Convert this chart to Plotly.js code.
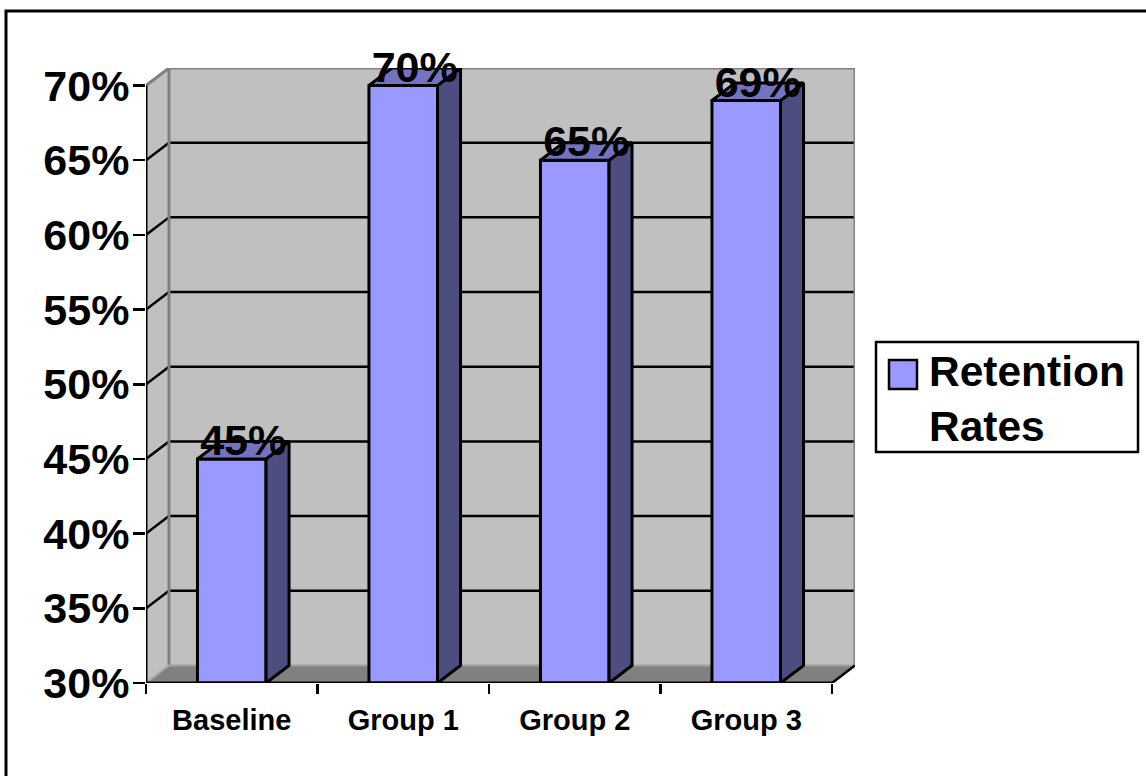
<!DOCTYPE html>
<html><head><meta charset="utf-8">
<script src="https://cdn.plot.ly/plotly-3.0.1.min.js"></script>
<style>html,body{margin:0;padding:0;background:#fff}#c{width:1146px;height:776px}</style>
</head><body><div id="c"></div>
<script>
const categories = ["Baseline", "Group 1", "Group 2", "Group 3"];
const retention = [45, 70, 65, 69];
const yTicks = [30, 35, 40, 45, 50, 55, 60, 65, 70];
const seriesName = "Retention<br>Rates";

const FONT = '"Liberation Sans", Arial, sans-serif';
const dx = 23 / 171.5, dy = 17.5 / 14.925, halfBar = 0.2, labelDrop = 7 / 14.925;
const xMin = -0.5, xMax = 3.5, yMin = 30, yMax = 70;
const L = 146, R = 855, T = 68, B = 683;
const px = v => (v - L) / (R - L), py = v => (B - v) / (B - T);
const poly = pts => 'M' + pts.map(p => p.join(',')).join('L') + 'Z';
const seg = (x0, y0, x1, y1, color, width, layer) => ({type:'line', xref:'x', yref:'y', x0, y0, x1, y1, layer: layer || 'below', line:{color, width}});

const shapes = [
  {type:'path', layer:'below', xref:'x', yref:'y', fillcolor:'#c0c0c0', line:{width:0},
    path: poly([[xMin,yMin],[xMin+dx,yMin+dy],[xMin+dx,yMax+dy],[xMin,yMax]])},
  {type:'path', layer:'below', xref:'x', yref:'y', fillcolor:'#c0c0c0', line:{width:0},
    path: poly([[xMin+dx,yMin+dy],[xMax+dx,yMin+dy],[xMax+dx,yMax+dy],[xMin+dx,yMax+dy]])},
  {type:'path', layer:'below', xref:'x', yref:'y', fillcolor:'#808080', line:{width:0},
    path: poly([[xMin,yMin],[xMax,yMin],[xMax+dx,yMin+dy],[xMin+dx,yMin+dy]])},
];
yTicks.slice(1, -1).forEach(v => {
  shapes.push(seg(xMin, v, xMin+dx, v+dy, '#000', 2.5));
  shapes.push(seg(xMin+dx, v+dy, xMax+dx, v+dy, '#000', 2.5));
});
shapes.push(seg(xMin+dx, yMin+dy, xMin+dx, yMax+dy, '#808080', 3));
shapes.push(seg(xMin+dx, yMax+dy, xMax+dx, yMax+dy, '#808080', 3));
shapes.push(seg(xMax+dx, yMin+dy, xMax+dx, yMax+dy, '#808080', 3));
shapes.push(seg(xMin, yMax, xMin+dx, yMax+dy, '#808080', 3));
shapes.push(seg(xMin, yMin, xMin+dx, yMin+dy, '#a6a6a6', 2));
shapes.push(seg(xMin+dx, yMin+dy, xMax+dx, yMin+dy, '#a0a0a0', 2));
shapes.push(seg(xMax, yMin, xMax+dx, yMin+dy, '#000', 2.5));
shapes.push(seg(xMin, yMin, xMin, yMax, '#000', 3, 'above'));
shapes.push(seg(xMin, yMin, xMax, yMin, '#000', 3, 'above'));
// page frame, legend box and legend swatch
shapes.push({type:'rect', xref:'paper', yref:'paper', layer:'above', x0:px(6), x1:px(1160), y0:py(11), y1:py(790), line:{color:'#000', width:3}});
shapes.push({type:'rect', xref:'paper', yref:'paper', layer:'above', x0:px(876), x1:px(1138), y0:py(342), y1:py(452), fillcolor:'#fff', line:{color:'#000', width:2.5}});
shapes.push({type:'rect', xref:'paper', yref:'paper', layer:'above', x0:px(889), x1:px(917), y0:py(360), y1:py(389), fillcolor:'#9999ff', line:{color:'#000', width:2.5}});

const sides = categories.map((c, i) => ({
  type:'scatter', mode:'lines', fill:'toself', fillcolor:'#4d4d80', line:{color:'#000', width:3}, showlegend:false, hoverinfo:'skip',
  x:[i+halfBar, i+halfBar+dx, i+halfBar+dx, i+halfBar, i+halfBar],
  y:[yMin, yMin+dy, retention[i]+dy, retention[i], yMin]
}));
const tops = categories.map((c, i) => ({
  type:'scatter', mode:'lines', fill:'toself', fillcolor:'#7373bf', line:{color:'#000', width:3}, showlegend:false, hoverinfo:'skip',
  x:[i-halfBar, i+halfBar, i+halfBar+dx, i-halfBar+dx, i-halfBar],
  y:[retention[i], retention[i], retention[i]+dy, retention[i]+dy, retention[i]]
}));
const front = {type:'bar', x:[0,1,2,3], y:retention.map(v => v - yMin), base:yMin, width:0.4, showlegend:false, hoverinfo:'skip',
  marker:{color:'#9999ff', line:{color:'#000', width:3}}};
const legendTrace = {type:'bar', x:[null], y:[null], name:seriesName, showlegend:true, marker:{color:'#9999ff'}};
const labels = {type:'scatter', mode:'text', x:retention.map((v,i)=>i+dx/2), y:retention.map(v=>v-labelDrop), text:retention.map(v=>v+'%'),
  textposition:'top center', cliponaxis:false, showlegend:false, hoverinfo:'skip',
  textfont:{family:FONT, size:43, color:'#000', weight:700}};

Plotly.newPlot('c', [front, legendTrace, ...sides, ...tops, labels], {
  width:1146, height:776, paper_bgcolor:'#fff', plot_bgcolor:'#fff',
  margin:{l:L, r:1146-R, t:T, b:776-B, pad:0},
  barmode:'overlay',
  font:{family:FONT, color:'#000'},
  shapes,
  xaxis:{range:[xMin, xMax+dx], tickmode:'array', tickvals:[0,1,2,3], ticktext:categories, ticks:'', ticklen:0, showgrid:false, zeroline:false, showline:false,
    tickangle:0, tickfont:{family:FONT, size:29, weight:700, color:'#000'}, ticklabelstandoff:17,
    minor:{tickmode:'array', tickvals:[-0.5,0.5,1.5,2.5,3.5], ticks:'outside', ticklen:10, tickwidth:2.5, tickcolor:'#000', showgrid:false}},
  yaxis:{range:[yMin, yMax+dy], tickmode:'array', tickvals:yTicks, ticktext:yTicks.map(v=>v+'%'), ticks:'outside', ticklen:12, tickwidth:2.5, tickcolor:'#000', ticklabelstandoff:-5,
    showgrid:false, zeroline:false, showline:false, tickfont:{family:FONT, size:43, weight:700, color:'#000'}},
  legend:{x:px(876), y:py(335), xanchor:'left', yanchor:'top', bgcolor:'rgba(255,255,255,0)', borderwidth:0, valign:'top',
    font:{family:FONT, size:42.5, weight:700, color:'#000'}, itemwidth:43, itemclick:false}
}, {displayModeBar:false, staticPlot:true});
</script></body></html>
